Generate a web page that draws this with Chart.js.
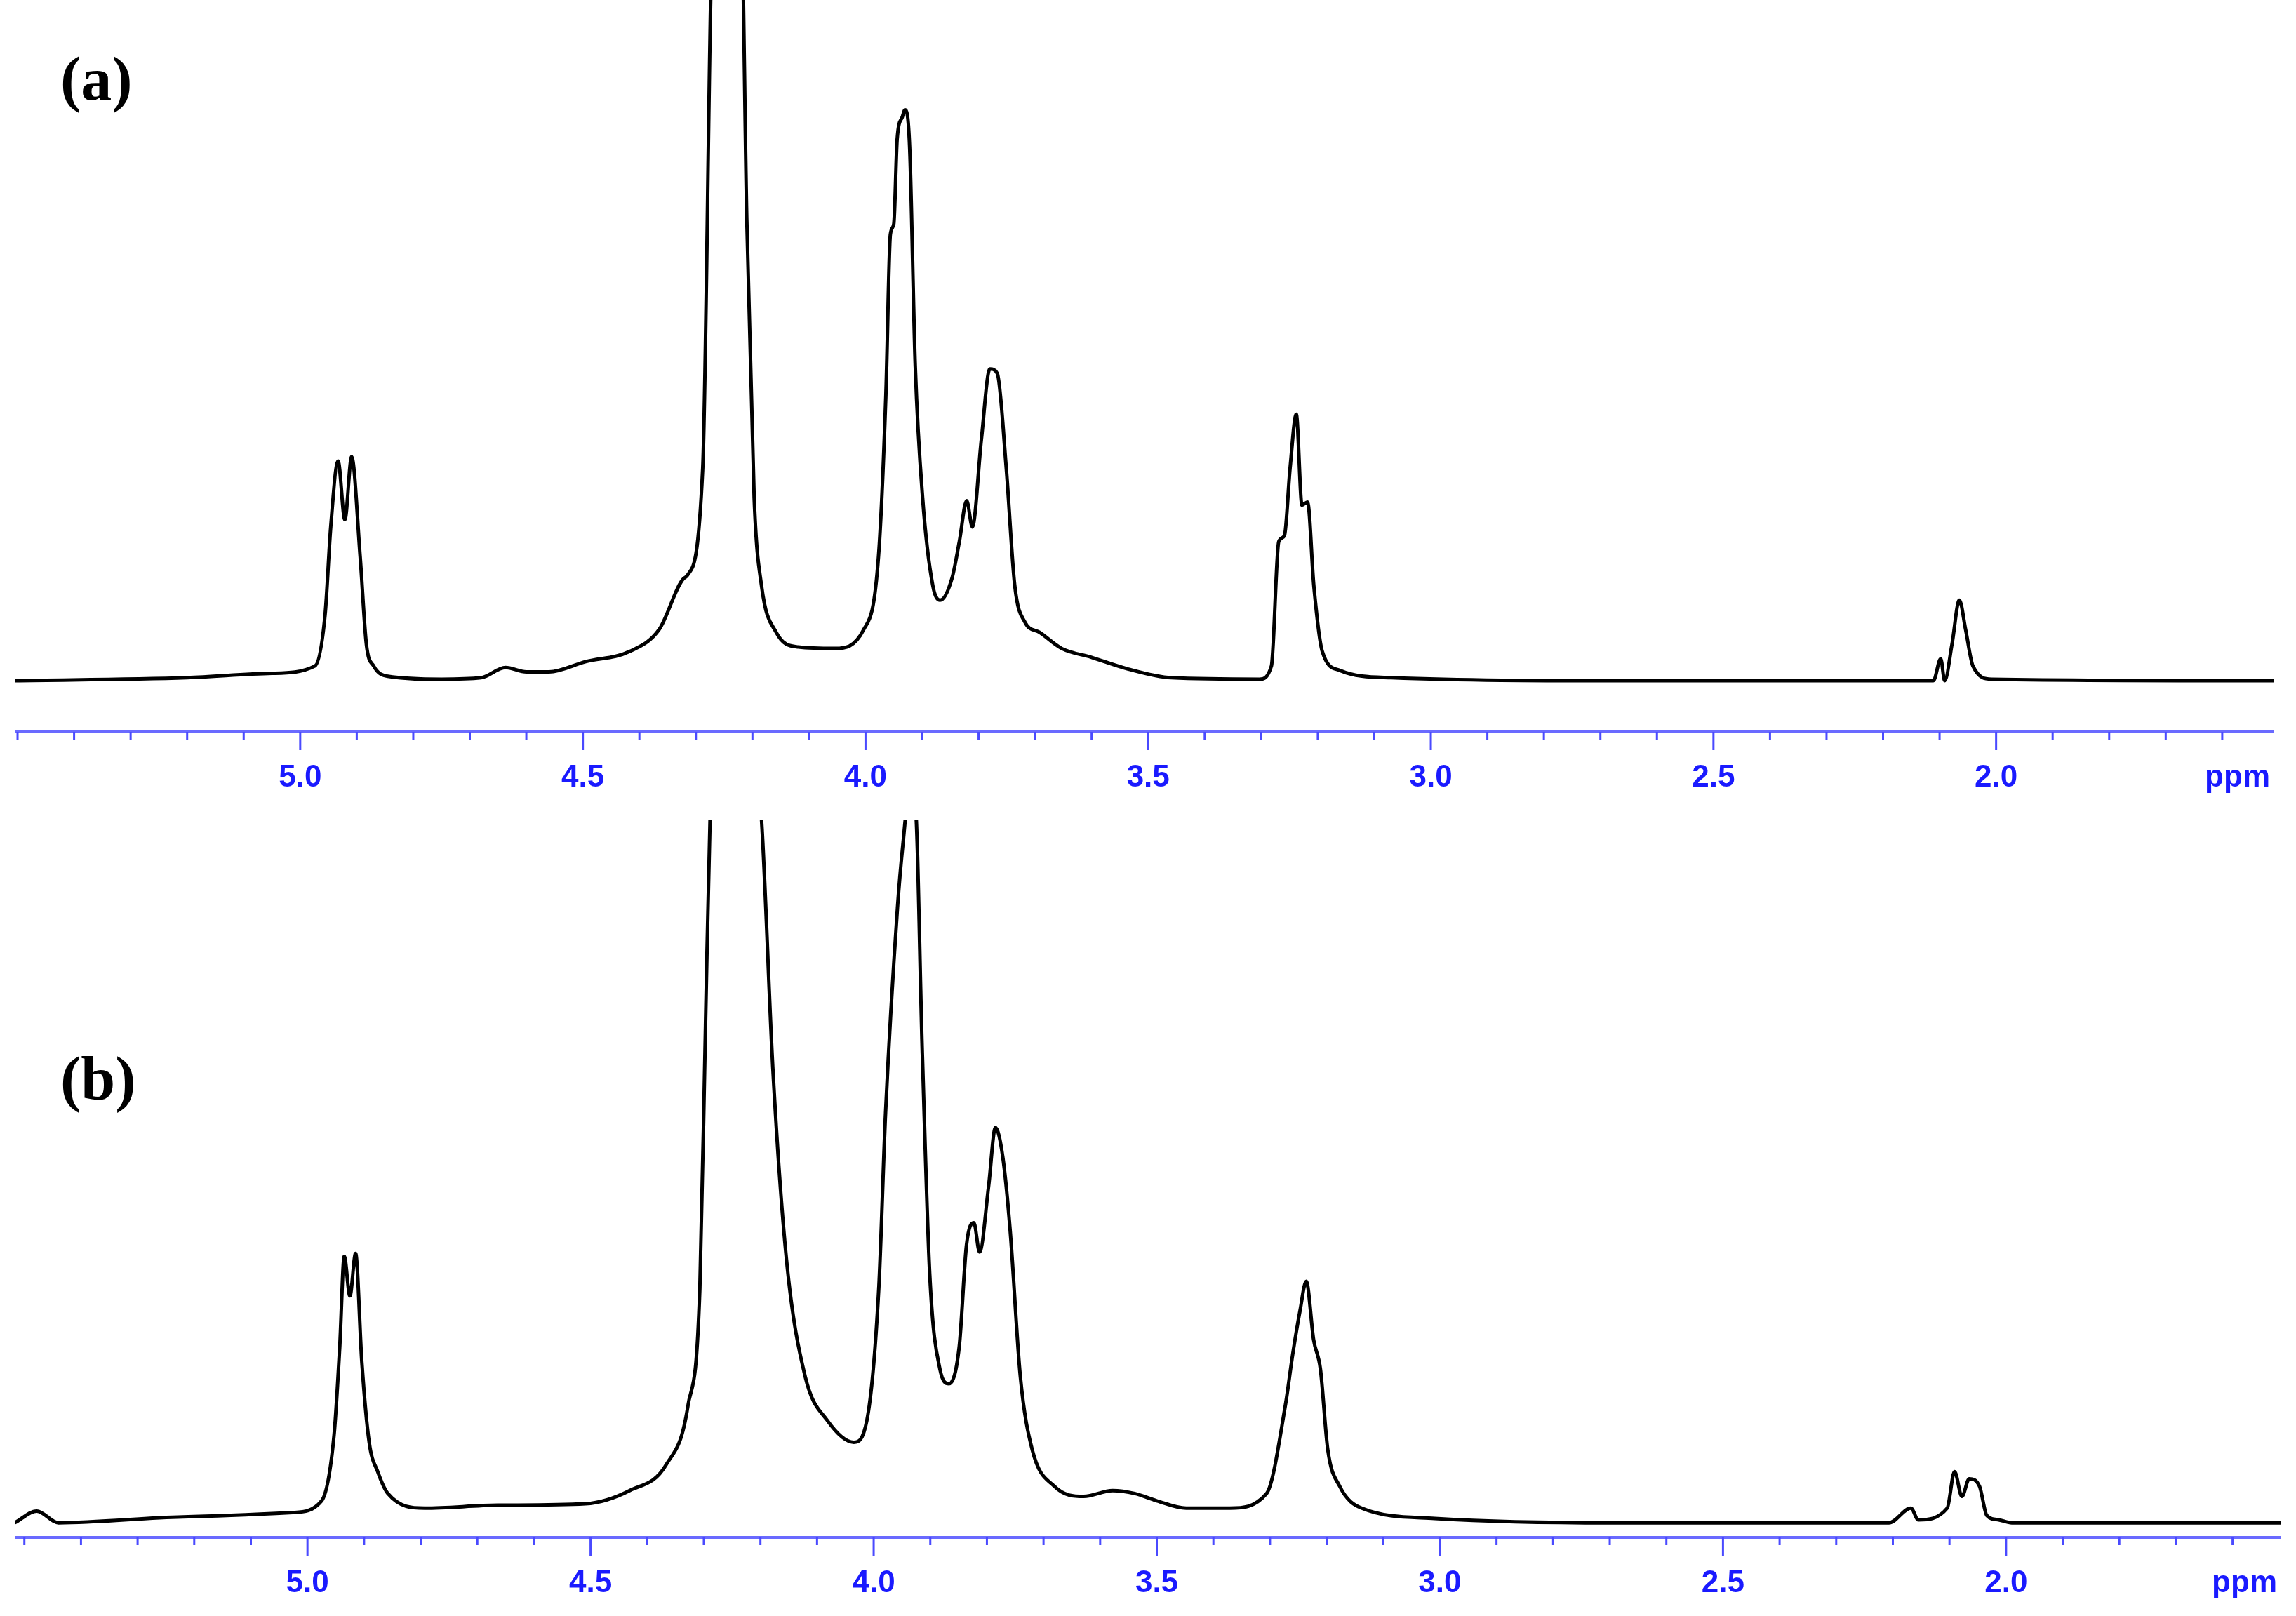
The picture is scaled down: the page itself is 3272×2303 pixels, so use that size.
<!DOCTYPE html>
<html><head><meta charset="utf-8">
<script src="https://cdn.jsdelivr.net/npm/chart.js@4"></script>
<style>
body{margin:0;background:#fff;width:3272px;height:2303px;position:relative;overflow:hidden}
.pan{position:absolute;left:0;width:3272px}
.lab{position:absolute;font-family:"Liberation Serif","Times New Roman",serif;font-weight:bold;font-size:88px;color:#000}
</style></head><body>
<div class="pan" style="top:0;height:1150px"><canvas id="ca"></canvas></div>
<div class="pan" style="top:1150px;height:1153px"><canvas id="cb"></canvas></div>
<div class="lab" style="left:86px;top:62px">(a)</div>
<div class="lab" style="left:86px;top:1487px">(b)</div>
<script>
// Spectrum (a): chemical shift (ppm) and intensity
const ppmA=[5.505,5.2,5.05,4.974,4.956,4.946,4.933,4.921,4.909,4.894,4.883,4.870,4.845,4.75,4.68,4.637,4.6,4.56,4.495,4.417,4.365,4.321,4.315,4.288,4.269,4.220,4.21,4.197,4.184,4.158,4.119,4.054,4.003,3.977,3.964,3.956,3.950,3.944,3.935,3.930,3.922,3.912,3.899,3.881,3.868,3.847,3.834,3.821,3.811,3.795,3.780,3.767,3.751,3.736,3.718,3.692,3.653,3.601,3.536,3.459,3.303,3.282,3.269,3.259,3.249,3.238,3.228,3.218,3.207,3.192,3.161,3.070,2.681,2.111,2.098,2.091,2.078,2.065,2.054,2.041,2.008,1.508];
const intA=[0,2,5,10,45,105,150,110,153,85,25,10,3,1,2,9,6,6,13,20,35,70,72,145,520,520,315,125,65,33,23,22,35,85,195,305,312,370,385,390,365,215,125,65,55,70,95,123,105,165,213,210,145,65,40,33,22,16,8,2,1,10,95,99,145,182,120,122,65,20,7,2,0,0,15,0,25,55,35,10,1,0];
// Spectrum (b)
const ppmB=[5.517,5.478,5.44,5.22,5.026,4.975,4.953,4.943,4.935,4.925,4.915,4.904,4.891,4.876,4.858,4.793,4.664,4.509,4.431,4.366,4.328,4.307,4.297,4.289,4.27,4.22,4.198,4.178,4.154,4.121,4.082,4.035,4.012,3.991,3.979,3.958,3.948,3.94,3.927,3.914,3.901,3.883,3.867,3.849,3.836,3.823,3.813,3.797,3.785,3.772,3.759,3.741,3.720,3.681,3.629,3.578,3.539,3.5,3.448,3.371,3.306,3.273,3.26,3.247,3.236,3.223,3.211,3.198,3.177,3.138,3.009,2.698,2.207,2.168,2.155,2.104,2.091,2.078,2.065,2.047,2.034,2.013,1.99,1.514];
const intB=[0,8,0,4,7,15,60,120,182,155,184,110,55,35,20,10,12,13,22,40,80,160,340,480,560,560,480,310,180,100,70,55,70,160,280,420,465,490,490,320,170,105,95,120,190,205,185,230,270,250,200,100,50,25,18,22,20,15,10,10,20,80,115,145,165,125,105,50,25,10,3,0,0,10,2,10,35,18,30,25,5,2,0,0];
const ticks=[5.5,5.4,5.3,5.2,5.1,5.0,4.9,4.8,4.7,4.6,4.5,4.4,4.3,4.2,4.1,4.0,3.9,3.8,3.7,3.6,3.5,3.4,3.3,3.2,3.1,3.0,2.9,2.8,2.7,2.6,2.5,2.4,2.3,2.2,2.1,2.0,1.9,1.8,1.7,1.6];
const majorLabels=["5.0","4.5","4.0","3.5","3.0","2.5","2.0"];

const axisPlugin={id:'nmrAxis',afterDraw(chart){
  const c=chart.ctx,a=chart.chartArea,x=chart.scales.x;const y0=a.bottom;
  c.save();
  c.strokeStyle='#6a6aff';c.lineWidth=4;
  c.beginPath();c.moveTo(a.left,y0);c.lineTo(a.right,y0);c.stroke();
  c.lineWidth=3;c.strokeStyle='#4a4aff';
  ticks.forEach(t=>{const px=x.getPixelForValue(t);if(px<a.left-1||px>a.right+1)return;
    const maj=majorLabels.includes(t.toFixed(1));
    c.beginPath();c.moveTo(px,y0);c.lineTo(px,y0+(maj?26:11));c.stroke();});
  c.fillStyle='#1a1aff';c.font='bold 44px "Liberation Sans", Arial, sans-serif';
  c.textAlign='center';c.textBaseline='middle';
  majorLabels.forEach(l=>{c.fillText(l,x.getPixelForValue(parseFloat(l)),y0+66);});
  c.textAlign='right';c.fillText('ppm',a.right-6,y0+66);
  c.restore();}};

function make(id,px,py,ymin,ymax,pad){
  return new Chart(document.getElementById(id),{type:'line',
    data:{datasets:[{data:px.map((p,i)=>({x:p,y:py[i]})),borderColor:'#000',borderWidth:5,pointRadius:0,cubicInterpolationMode:'monotone',fill:false}]},
    options:{responsive:true,maintainAspectRatio:false,animation:false,devicePixelRatio:1,
      layout:{padding:pad},
      plugins:{legend:{display:false},tooltip:{enabled:false}},
      scales:{x:{type:'linear',reverse:true,min:px[px.length-1],max:px[0],display:false},
              y:{min:ymin,max:ymax,display:false}}},
    plugins:[axisPlugin]});
}
make('ca',ppmA,intA,-35,465,{left:21,right:31,top:0,bottom:107});
make('cb',ppmB,intB,-10,480,{left:21,right:21,top:19,bottom:112});
</script></body></html>
